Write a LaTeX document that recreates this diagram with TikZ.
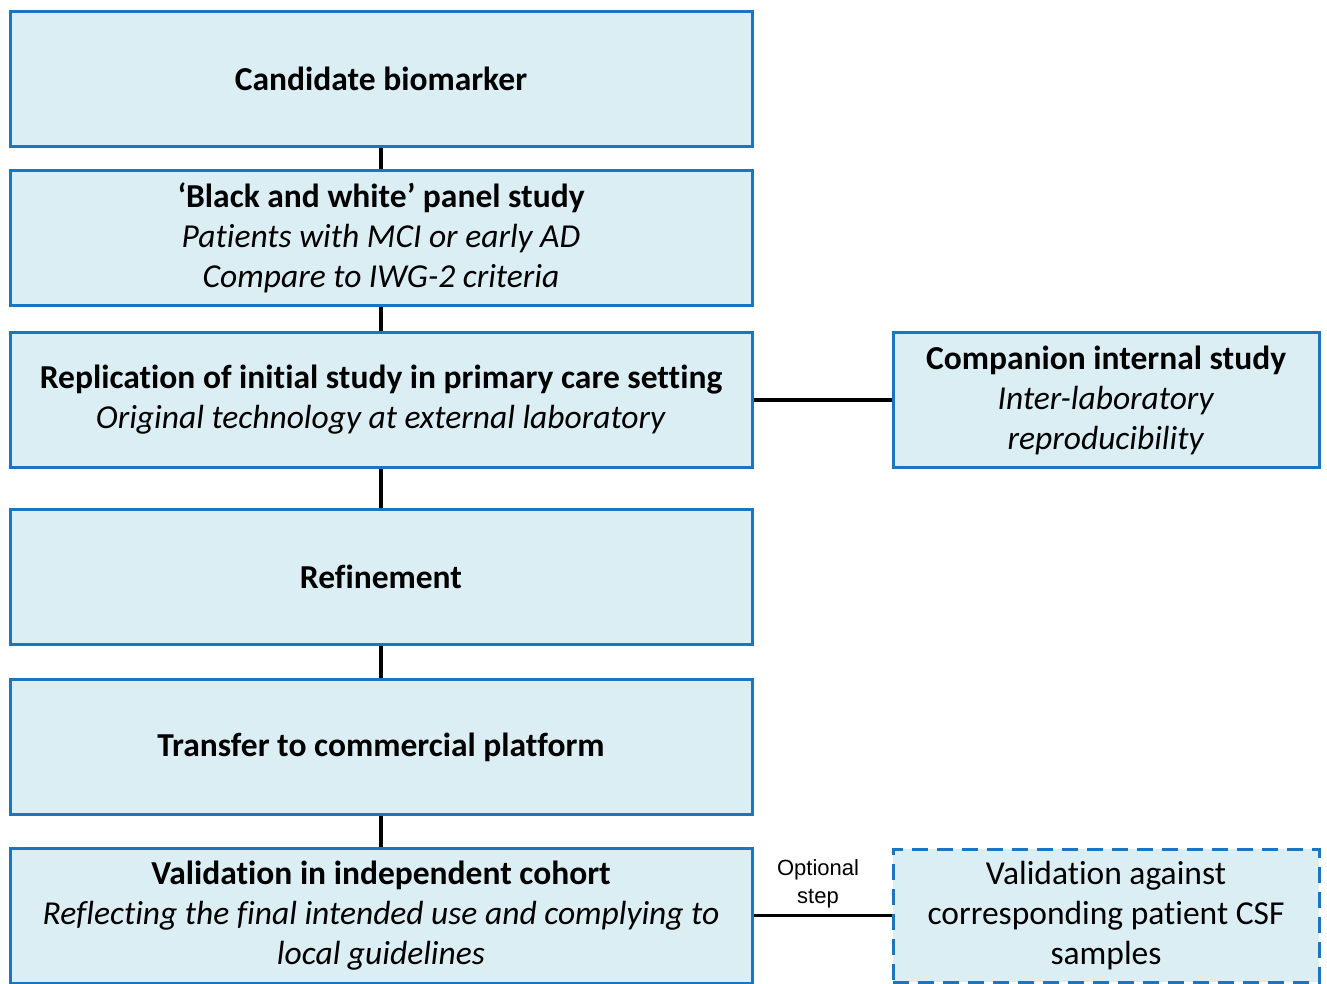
\documentclass[tikz,border=0pt]{standalone}
\usepackage{fontspec}
\setmainfont{Carlito}[Ligatures=NoCommon]
\newfontfamily\arialfont{Liberation Sans}
\definecolor{boxfill}{HTML}{DAEEF3}
\definecolor{boxline}{HTML}{1A76C2}
\tikzstyle{stage}   =[draw=boxline,line width=3pt,fill=boxfill,align=center,
                      minimum width=742pt,minimum height=135pt,inner sep=0pt,
                      font=\fontsize{33.5}{40}\selectfont]
\tikzstyle{side}    =[stage,minimum width=426pt]
\tikzstyle{optside} =[side,dash pattern=on 16pt off 9pt,minimum height=133pt]
\tikzstyle{link}    =[line width=3.5pt,black]
\tikzstyle{optlabel}=[align=center,font=\arialfont\fontsize{22}{28}\selectfont]

\begin{document}
\begin{tikzpicture}[x=1pt,y=-1pt]
  \useasboundingbox (0,0) rectangle (1327,983);

  % Main column
  \node[stage] (cand)  at (381,78.5) {\textbf{Candidate biomarker}};
  \node[stage] (panel) at (381,237.5)
    {\textbf{‘Black and white’ panel study}\\
     \textit{Patients with MCI or early AD}\\
     \textit{Compare to IWG-2 criteria}};
  \node[stage] (repl)  at (381,400)
    {\textbf{Replication of initial study in primary care setting}\\
     \textit{Original technology at external laboratory}};
  \node[stage] (refine) at (381,576.5) {\textbf{Refinement}};
  \node[stage] (transf) at (381,747) {\textbf{Transfer to commercial platform}};
  \node[stage] (valid) at (381,915.5)
    {\textbf{Validation in independent cohort}\\
     \textit{Reflecting the final intended use and complying to}\\
     \textit{local guidelines}};

  % Side studies
  \node[side] (comp) at (1106,400)
    {\textbf{Companion internal study}\\
     \textit{Inter-laboratory}\\
     \textit{reproducibility}};
  \node[optside] (csf) at (1106,915.5)
    {Validation against\\corresponding patient CSF\\samples};

  % Links
  \draw[link] (cand) -- (panel);
  \draw[link] (panel) -- (repl);
  \draw[link] (repl) -- (refine);
  \draw[link] (refine) -- (transf);
  \draw[link] (transf) -- (valid);
  \draw[link] (repl) -- (comp);
  \draw[link] (valid) -- (csf);

  % Label
  \node[optlabel] (opt) at (818,884) {Optional\\step};
\end{tikzpicture}
\end{document}
